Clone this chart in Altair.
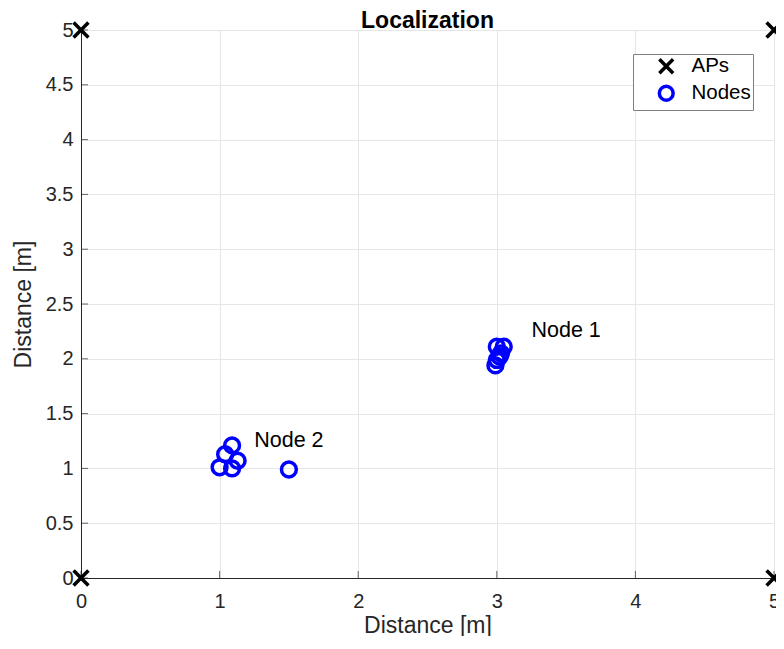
import altair as alt
import pandas as pd

# Access points
ap_x = [0, 0, 5, 5]
ap_y = [0, 5, 0, 5]

# Estimated node positions
node_x = [3.00, 3.05, 3.02, 3.00, 2.99, 3.03, 1.00, 1.09, 1.04, 1.13, 1.09, 1.50]
node_y = [2.11, 2.11, 2.02, 1.99, 1.94, 2.05, 1.01, 1.21, 1.13, 1.07, 1.00, 0.99]

label_text = ["Node 1", "Node 2"]
label_x = [3.25, 1.25]
label_y = [2.25, 1.25]

x_ticks = [0, 1, 2, 3, 4, 5]
y_ticks = [0, 0.5, 1, 1.5, 2, 2.5, 3, 3.5, 4, 4.5, 5]

FONT = "Liberation Sans"

pts = pd.DataFrame({
    "x": ap_x + node_x,
    "y": ap_y + node_y,
    "type": ["APs"] * len(ap_x) + ["Nodes"] * len(node_x),
})
labels = pd.DataFrame({"x": label_x, "y": label_y, "text": label_text})
xt = pd.DataFrame({"x": x_ticks})
yt = pd.DataFrame({"y": y_ticks})

xscale = alt.Scale(domain=[0, 5], nice=False, zero=False)
yscale = alt.Scale(domain=[0, 5], nice=False, zero=False)

xaxis = alt.Axis(title="Distance [m]", values=x_ticks, format="d", grid=True,
                 ticks=False, labelPadding=13, titlePadding=3, labelFlush=False)
yaxis = alt.Axis(title="Distance [m]", values=y_ticks, grid=True,
                 format="~g", ticks=False, labelPadding=8, titlePadding=10, labelFlush=False)

xtick_layer = alt.Chart(xt).mark_tick(orient="vertical", size=7, thickness=1,
                                      color="#262626", yOffset=-3.5).encode(
    x=alt.X("x:Q", scale=xscale, axis=xaxis),
    y=alt.datum(0, scale=yscale, axis=yaxis),
)
ytick_layer = alt.Chart(yt).mark_tick(orient="horizontal", size=7, thickness=1,
                                      color="#262626", xOffset=3.5).encode(
    y=alt.Y("y:Q", scale=yscale, axis=yaxis),
    x=alt.datum(0, scale=xscale, axis=xaxis),
)

points = alt.Chart(pts).mark_point(filled=False, strokeWidth=3.5, size=220, opacity=1).encode(
    x=alt.X("x:Q", scale=xscale, axis=xaxis),
    y=alt.Y("y:Q", scale=yscale, axis=yaxis),
    color=alt.Color("type:N", scale=alt.Scale(domain=["APs", "Nodes"], range=["#000000", "#0000ff"]),
                    legend=alt.Legend(title=None)),
    shape=alt.Shape("type:N", scale=alt.Scale(domain=["APs", "Nodes"],
                                              range=["M-1,-1L1,1M1,-1L-1,1", "circle"]),
                    legend=alt.Legend(title=None)),
)

text = alt.Chart(labels).mark_text(align="left", baseline="middle", fontSize=21.5,
                                   font=FONT, color="#000000").encode(
    x=alt.X("x:Q", scale=xscale, axis=xaxis),
    y=alt.Y("y:Q", scale=yscale, axis=yaxis),
    text="text:N",
)

chart = alt.layer(xtick_layer, ytick_layer, points, text).properties(
    width=693,
    height=548,
    autosize=alt.AutoSizeParams(type="none"),
    padding={"left": 73, "top": 22, "right": 2, "bottom": 58},
    title=alt.TitleParams("Localization", fontSize=23, fontWeight="bold", font=FONT,
                          color="#000000", anchor="middle", offset=-17),
).configure_view(
    stroke=None,
).configure_axis(
    labelFont=FONT, titleFont=FONT, labelFontSize=20, titleFontSize=23,
    labelColor="#262626", titleColor="#262626", titleFontWeight="normal",
    domainColor="#262626", domainWidth=1, gridColor="#e6e6e6", gridWidth=1,
).configure_legend(
    orient="none", legendX=552, legendY=24,
    strokeColor="#808080", fillColor="#ffffff", padding=2,
    labelFont=FONT, labelFontSize=20.5, labelColor="#000000",
    symbolSize=190, symbolStrokeWidth=3.5, symbolOffset=21, labelOffset=15,
    rowPadding=-2, cornerRadius=0,
)

chart.save("out.html", embed_options={"renderer": "svg", "actions": False})
